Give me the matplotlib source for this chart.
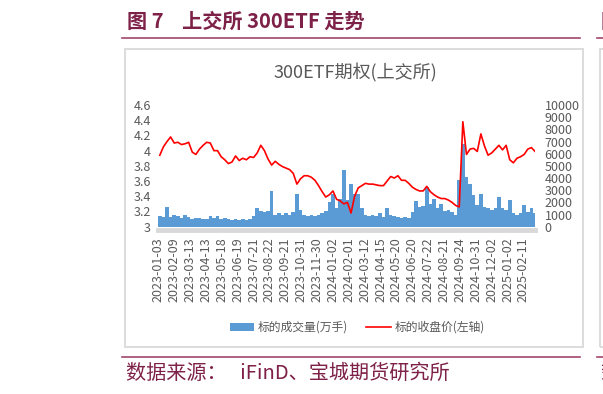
import matplotlib.pyplot as plt
from matplotlib.patches import Rectangle
from matplotlib.lines import Line2D
from matplotlib.ticker import FuncFormatter, MultipleLocator

plt.rcParams['font.family'] = ['Noto Sans CJK SC', 'DejaVu Sans']

# x tick labels, one every 22 trading days
tick_labels = ["2023-01-03", "2023-02-09", "2023-03-13", "2023-04-13", "2023-05-18",
               "2023-06-19", "2023-07-21", "2023-08-22", "2023-09-21", "2023-10-31",
               "2023-11-30", "2024-01-02", "2024-02-01", "2024-03-12", "2024-04-15",
               "2024-05-20", "2024-06-20", "2024-07-22", "2024-08-21", "2024-09-24",
               "2024-10-31", "2024-12-02", "2025-01-02", "2025-02-11"]

# weekly samples (every 5 trading days)
close_price = [3.94, 4.05, 4.12, 4.18, 4.10, 4.11, 4.08, 4.09, 4.11, 3.98,
               3.95, 4.02, 4.07, 4.11, 4.10, 4.00, 4.00, 3.92, 3.88, 3.83,
               3.85, 3.93, 3.87, 3.90, 3.88, 3.92, 3.91, 3.97, 4.07, 4.00,
               3.89, 3.81, 3.86, 3.82, 3.79, 3.77, 3.75, 3.70, 3.56, 3.63,
               3.67, 3.67, 3.65, 3.61, 3.54, 3.46, 3.39, 3.42, 3.47, 3.36,
               3.34, 3.30, 3.32, 3.18, 3.40, 3.51, 3.54, 3.57, 3.56, 3.56,
               3.55, 3.54, 3.54, 3.60, 3.66, 3.64, 3.67, 3.61, 3.61, 3.57,
               3.52, 3.49, 3.47, 3.47, 3.53, 3.46, 3.42, 3.39, 3.37, 3.37,
               3.35, 3.32, 3.28, 3.26, 4.38, 3.95, 4.02, 4.03, 3.99, 4.22,
               4.06, 3.94, 3.97, 4.02, 4.07, 4.01, 4.07, 3.88, 3.84, 3.90,
               3.92, 3.95, 4.02, 4.04, 3.99]

volume = [900, 800, 1600, 800, 1000, 900, 750, 1000, 800, 650,
          700, 750, 600, 650, 850, 700, 850, 650, 700, 600,
          550, 600, 550, 600, 550, 600, 900, 1500, 1300, 1200,
          1300, 2900, 1000, 1100, 1000, 1100, 1000, 1200, 2700, 1400,
          1000, 900, 950, 850, 1000, 1100, 1300, 2000, 2700, 1500,
          2300, 4700, 2200, 3500, 2700, 2700, 1500, 1000, 900, 1000,
          850, 1100, 800, 1500, 1000, 900, 800, 700, 800, 700,
          1200, 2100, 1600, 1700, 3300, 1900, 2300, 1500, 1900, 1300,
          1400, 1200, 1000, 3800, 6800, 4100, 3500, 2600, 1800, 2700,
          1600, 1500, 1400, 1500, 2400, 1500, 1400, 2200, 1100, 1000,
          1100, 1800, 1200, 1500, 1100]

days = [5 * i + 2 for i in range(len(close_price))]
tick_days = [22 * i for i in range(len(tick_labels))]

W, H = 603, 394
fig = plt.figure(figsize=(W / 100, H / 100), dpi=100)

maroon = '#7e2148'
rule = '#a2456c'
gray = '#595959'


def fx(px):
    return px / W


def fy(py):
    return 1 - py / H


# report frame: heading, rules, chart box, source
fig.text(fx(127), fy(21), "图 7    上交所 300ETF 走势", color=maroon,
         fontsize=14.5, fontweight='bold', va='center', ha='left')
fig.text(fx(601), fy(21), "图 8", color=maroon, fontsize=14.5,
         fontweight='bold', va='center', ha='left')
for x0, x1 in [(121.7, 580), (596.7, 620)]:
    fig.add_artist(Line2D([fx(x0), fx(x1)], [fy(38.3), fy(38.3)], color=rule, lw=1.2))
    fig.add_artist(Line2D([fx(x0), fx(x1)], [fy(356.7), fy(356.7)], color=rule, lw=1.2))
fig.add_artist(Rectangle((fx(125), fy(346.7)), fx(458.3), 297.4 / H,
                         fill=False, edgecolor='#d9d9d9', lw=1.3))
fig.add_artist(Rectangle((fx(600), fy(346.7)), fx(100), 297.4 / H,
                         fill=False, edgecolor='#d9d9d9', lw=1.3))
fig.text(fx(126), fy(373), "数据来源：   iFinD、宝城期货研究所", color=maroon,
         fontsize=14.5, va='center', ha='left')
fig.text(fx(600), fy(373), "数据来源", color=maroon, fontsize=14.5,
         va='center', ha='left')

fig.text(fx(355), fy(73), "300ETF期权(上交所)", color=gray, fontsize=13,
         ha='center', va='center')

# chart
ax_vol = fig.add_axes([fx(158), fy(226.7), fx(377), 121.7 / H])
ax_price = ax_vol.twinx()

bars = ax_vol.bar(days, volume, width=5, color='#5b9bd5', linewidth=0)
ax_vol.set_ylim(0, 10000)
ax_vol.yaxis.set_major_locator(MultipleLocator(1000))
ax_vol.yaxis.set_ticks_position('right')
ax_vol.yaxis.set_label_position('right')

line, = ax_price.plot(days, close_price, color='#ff0000', lw=1.2)
ax_price.set_ylim(3, 4.6)
ax_price.yaxis.set_major_locator(MultipleLocator(0.2))
ax_price.yaxis.set_major_formatter(FuncFormatter(lambda v, p: f"{v:g}"))
ax_price.yaxis.set_ticks_position('left')
ax_price.yaxis.set_label_position('left')

ax_vol.set_xlim(-0.5, 522)
ax_vol.set_xticks(tick_days)
ax_vol.set_xticklabels(tick_labels)

for a in (ax_vol, ax_price):
    for s in a.spines.values():
        s.set_visible(False)
    a.tick_params(length=0, labelsize=9, labelcolor=gray)
ax_vol.spines['bottom'].set_visible(True)
ax_vol.spines['bottom'].set_color('#d9d9d9')
ax_vol.spines['bottom'].set_linewidth(3.5)
ax_vol.spines['bottom'].set_position(('outward', 2.4))
ax_vol.tick_params(axis='x', pad=5.5, labelrotation=90)
ax_vol.tick_params(axis='y', pad=7)
ax_price.tick_params(axis='y', pad=5)

fig.legend([bars, line], ["标的成交量(万手)", "标的收盘价(左轴)"], loc='center',
           bbox_to_anchor=(fx(357), fy(327.5)), ncol=2, frameon=False,
           fontsize=8.5, labelcolor=gray, handlelength=2.1, handleheight=0.7,
           handletextpad=0.3, columnspacing=1.5, borderpad=0)

fig.savefig('out.png', dpi=100)
